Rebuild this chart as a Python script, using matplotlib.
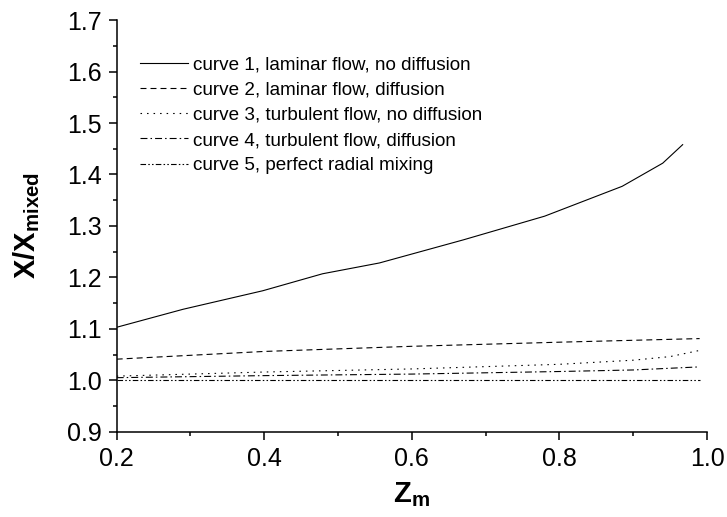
import matplotlib
matplotlib.use("Agg")
import matplotlib.pyplot as plt
from matplotlib.ticker import MultipleLocator, FormatStrFormatter

plt.rcParams['font.family'] = ['Liberation Sans', 'DejaVu Sans']
plt.rcParams['mathtext.fontset'] = 'custom'
plt.rcParams['mathtext.rm'] = 'Liberation Sans'
plt.rcParams['mathtext.bf'] = 'Liberation Sans:bold'
plt.rcParams['lines.scale_dashes'] = False

# Data
x1 = [0.2, 0.29, 0.398, 0.479, 0.556, 0.67, 0.78, 0.885, 0.940, 0.967]
y1 = [1.103, 1.138, 1.174, 1.207, 1.228, 1.273, 1.319, 1.377, 1.422, 1.458]

x2 = [0.2, 0.4, 0.6, 0.8, 0.99]
y2 = [1.041, 1.056, 1.066, 1.074, 1.081]

x3 = [0.2, 0.4, 0.6, 0.8, 0.9, 0.95, 0.99]
y3 = [1.008, 1.016, 1.022, 1.031, 1.039, 1.046, 1.058]

x4 = [0.2, 0.4, 0.6, 0.8, 0.9, 0.99]
y4 = [1.005, 1.009, 1.012, 1.017, 1.020, 1.026]

x5 = [0.2, 0.4, 0.6, 0.8, 0.99]
y5 = [1.0, 1.0, 1.0, 1.0, 1.0]

labels = ["curve 1, laminar flow, no diffusion",
          "curve 2, laminar flow, diffusion",
          "curve 3, turbulent flow, no diffusion",
          "curve 4, turbulent flow, diffusion",
          "curve 5, perfect radial mixing"]

fig = plt.figure(figsize=(7.27, 5.17), dpi=100)
ax = fig.add_axes([0.1605, 0.165, 0.812, 0.796])

lw = 0.8
ax.plot(x1, y1, color='black', lw=lw, linestyle='-', label=labels[0])
ax.plot(x2, y2, color='black', lw=lw, linestyle=(0, (4.3, 2.9)), label=labels[1])
ax.plot(x3, y3, color='black', lw=lw, linestyle=(0, (1.1, 3.6)), label=labels[2])
ax.plot(x4, y4, color='black', lw=lw, linestyle=(0, (5.0, 2.2, 1.1, 2.2)), label=labels[3])
ax.plot(x5, y5, color='black', lw=lw, linestyle=(0, (4.0, 1.6, 1.1, 1.6, 1.1, 1.6)), label=labels[4])

ax.set_xlim(0.2, 1.0)
ax.set_ylim(0.9, 1.7)
ax.xaxis.set_major_locator(MultipleLocator(0.2))
ax.xaxis.set_minor_locator(MultipleLocator(0.1))
ax.yaxis.set_major_locator(MultipleLocator(0.1))
ax.yaxis.set_minor_locator(MultipleLocator(0.05))
ax.xaxis.set_major_formatter(FormatStrFormatter('%.1f'))
ax.yaxis.set_major_formatter(FormatStrFormatter('%.1f'))

for s in ['top', 'right']:
    ax.spines[s].set_visible(False)
for s in ['left', 'bottom']:
    ax.spines[s].set_linewidth(1.1)

ax.tick_params(which='major', direction='out', length=6, width=1.1, labelsize=18, pad=5)
ax.tick_params(which='minor', direction='out', length=3, width=1.1)

ax.set_xlabel(r'$\mathbf{Z_m}$', fontsize=21, labelpad=7)
ax.set_ylabel(r'$\mathbf{X/X_{mixed}}$', fontsize=21, labelpad=18)

leg = ax.legend(loc='upper left', bbox_to_anchor=(0.04, 0.912), frameon=False,
                fontsize=13.6, handlelength=2.5, handletextpad=0.3,
                labelspacing=0.42, borderpad=0, borderaxespad=0)

fig.savefig('out.png', dpi=100)
